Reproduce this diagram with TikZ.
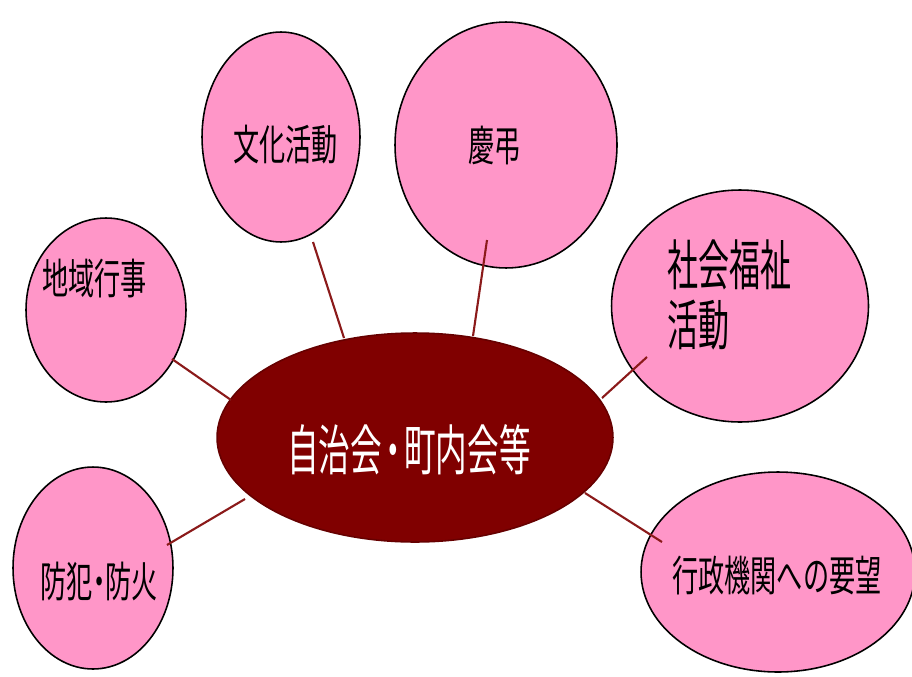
\documentclass[tikz,border=0pt]{standalone}
\usepackage{fontspec}
\newfontfamily\jp{Noto Sans CJK JP}
\usetikzlibrary{shapes.geometric}
\definecolor{pinkfill}{HTML}{FF96C8}
\definecolor{maroonfill}{HTML}{800000}
\definecolor{linkred}{HTML}{8B1A1A}
\tikzset{
  bubble/.style={ellipse, draw=black, line width=0.9pt, fill=pinkfill, inner sep=0pt},
  hub/.style={ellipse, draw=maroonfill!80!black, line width=0.9pt, fill=maroonfill, inner sep=0pt},
  lbl/.style={anchor=west, inner sep=0pt, font=\jp\fontsize{24}{28}\selectfont, text=black},
  biglbl/.style={anchor=west, inner sep=0pt, font=\jp\fontsize{31}{34}\selectfont},
  link/.style={draw=linkred, line width=1.2pt}
}
\begin{document}
\begin{tikzpicture}[x=0.02cm,y=-0.02cm]
\clip (0,0) rectangle (912,676);
\fill[white] (0,0) rectangle (912,676);
% bubbles
\node[bubble, minimum width=3.2cm, minimum height=3.68cm] (chiiki) at (106,310) {};
\node[bubble, minimum width=3.16cm, minimum height=4.2cm] (bunka) at (281,137) {};
\node[bubble, minimum width=4.44cm, minimum height=4.92cm] (keicho) at (506,145) {};
\node[bubble, minimum width=5.14cm, minimum height=4.64cm] (shakai) at (740,306) {};
\node[bubble, minimum width=3.2cm, minimum height=4.04cm] (bouhan) at (93,568) {};
\node[bubble, minimum width=5.48cm, minimum height=4.0cm] (gyousei) at (778,572) {};
\node[hub, minimum width=7.92cm, minimum height=4.18cm] (hubnode) at (415,437.5) {};
% labels
\node[lbl] (tchiiki) at (42,279) {\scalebox{0.62}[1]{地域行事}};
\node[lbl] (tbunka) at (233,145) {\scalebox{0.62}[1]{文化活動}};
\node[lbl] (tkeicho) at (468,145) {\scalebox{0.62}[1]{慶弔}};
\node[lbl] (tbouhan) at (40,581) {\scalebox{0.62}[1]{防犯\kern-0.25em・\kern-0.25em防火}};
\node[lbl] (tgyousei) at (672,576) {\scalebox{0.62}[1]{行政機関への要望}};
\node[biglbl, text=black] (tshakai) at (667,301.5) {\scalebox{0.57}[1]{\begin{tabular}{@{}l@{}}社会福祉\\[-0.05em]活動\end{tabular}}};
\node[biglbl, text=white] (thub) at (287,450) {\scalebox{0.58}[1]{自治会\kern-0.15em・\kern-0.15em町内会等}};
% connector end points
\coordinate (cbunka) at (313,242);
\coordinate (hbunka) at (344,338);
\coordinate (ckeicho) at (487,240);
\coordinate (hkeicho) at (473,336);
\coordinate (cchiiki) at (172,359);
\coordinate (hchiiki) at (231,400);
\coordinate (cbouhan) at (167,545);
\coordinate (hbouhan) at (245,499);
\coordinate (cshakai) at (647,357);
\coordinate (hshakai) at (602,398);
\coordinate (cgyousei) at (662,542);
\coordinate (hgyousei) at (585,493);
% connectors
\draw[link] (cbunka) -- (hbunka);
\draw[link] (ckeicho) -- (hkeicho);
\draw[link] (cchiiki) -- (hchiiki);
\draw[link] (cbouhan) -- (hbouhan);
\draw[link] (cshakai) -- (hshakai);
\draw[link] (cgyousei) -- (hgyousei);
\end{tikzpicture}
\end{document}
